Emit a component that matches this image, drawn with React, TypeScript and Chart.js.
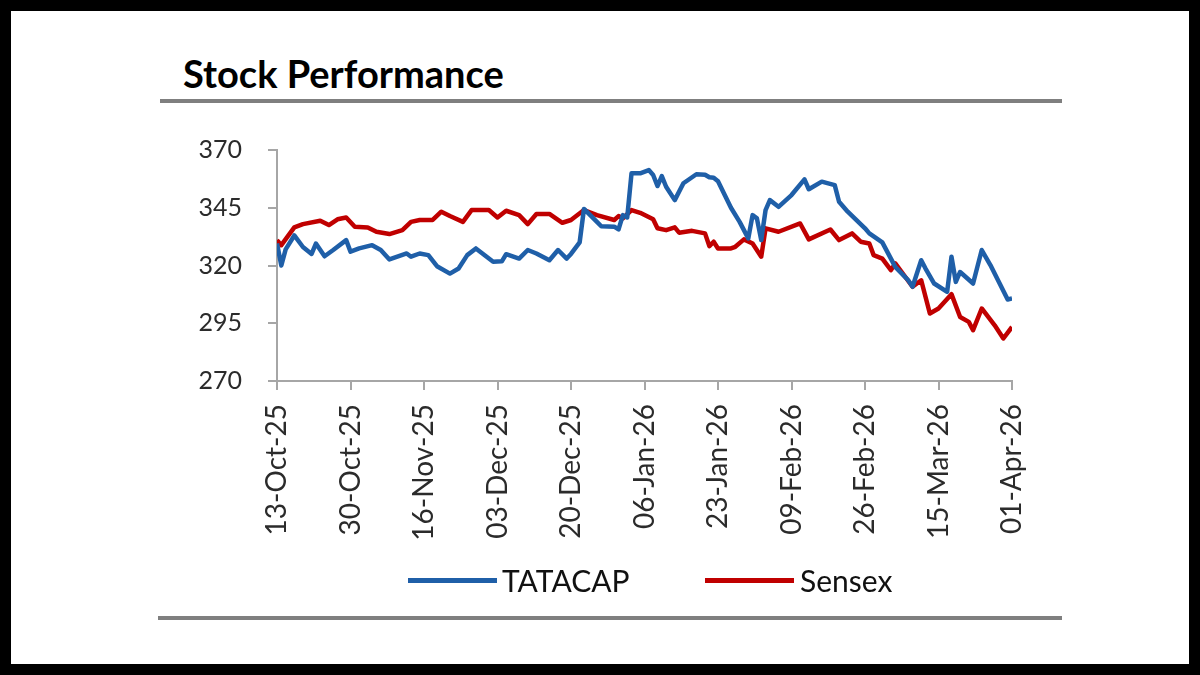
import React, { useEffect, useRef } from "react";
import { Chart, registerables } from "chart.js";

Chart.register(...registerables);

// x-axis tick labels (every 17 days starting 13-Oct-25)
const tickLabels = [
  "13-Oct-25", "30-Oct-25", "16-Nov-25", "03-Dec-25", "20-Dec-25", "06-Jan-26",
  "23-Jan-26", "09-Feb-26", "26-Feb-26", "15-Mar-26", "01-Apr-26",
];
const tickStepDays = 17;
const totalDays = 170;

// TATACAP: days since 13-Oct-25 and rebased values
const tataDays = [
  0, 1, 2, 4, 6, 8, 9, 11, 13, 16, 17, 19, 22, 24, 26, 30, 31, 33, 35, 37, 40, 42, 44, 46, 50,
  52, 53, 56, 58, 60, 63, 65, 67, 68, 70, 71, 74, 75, 78, 79, 80, 81, 82, 84, 86, 87, 88, 89, 90,
  92, 94, 97, 99, 100, 101, 102, 105, 107, 108, 109, 110, 111, 112, 113, 114, 116, 119, 122, 123,
  126, 129, 130, 132, 136, 137, 140, 143, 146, 147, 149, 150, 152, 155, 156, 157, 158, 161, 163,
  165, 169, 170,
];
const tataValues = [
  329.5, 320, 327, 333, 328, 325, 329.5, 324, 326.7, 331, 326, 327.4, 328.8, 326.7, 322.6, 325.2,
  323.8, 325.2, 324.5, 319.7, 316.5, 318.7, 324.5, 327.4, 321.6, 321.8, 324.9, 323, 326.7, 325.2,
  322.3, 326.7, 323, 325, 330, 344.5, 338.9, 337, 336.8, 335.6, 341.8, 340.8, 359.9, 359.9, 361.3,
  359.2, 354.4, 358.7, 354.1, 348.3, 355.6, 359.5, 359.3, 358.2, 358, 356.5, 345, 338.9, 335.3,
  331.7, 341.8, 340.4, 331, 344, 348.3, 345.4, 350.5, 357.3, 353, 356.3, 354.8, 347.6, 343.3,
  336.1, 333.9, 330, 319.4, 313.6, 310.8, 322.3, 318.7, 312.2, 308.6, 323.8, 312.9, 317.2, 312.2,
  326.7, 320.2, 305.3, 305.7,
];

// Sensex: days since 13-Oct-25 and rebased values
const sensexDays = [
  0, 1, 4, 6, 10, 12, 14, 16, 18, 21, 23, 26, 29, 31, 33, 36, 38, 40, 43, 45, 49, 51, 53, 56, 58,
  60, 63, 66, 68, 71, 74, 78, 79, 80, 82, 84, 87, 88, 90, 92, 93, 96, 99, 100, 101, 102, 105, 106,
  108, 110, 112, 113, 116, 121, 123, 128, 130, 133, 135, 137, 138, 140, 142, 143, 147, 149, 151,
  153, 156, 158, 160, 161, 163, 166, 168, 170,
];
const sensexValues = [
  331, 328.8, 336.5, 337.9, 339.4, 337.5, 340, 340.8, 336.8, 336.5, 334.6, 333.6, 335.3, 338.9,
  339.7, 339.7, 343.3, 341.4, 338.9, 344, 344, 340.8, 343.7, 341.8, 337.9, 342.3, 342.3, 338.5,
  339.7, 344, 341.8, 339.7, 341.4, 340.4, 344, 342.8, 340, 336.1, 335.3, 336.5, 334.2, 335, 333.9,
  328.4, 330.3, 327.4, 327.4, 328.1, 331.3, 329.5, 323.8, 336.1, 334.6, 338.2, 331.3, 335.6, 331,
  333.9, 330.3, 329.5, 324.5, 323, 318, 320.9, 310.8, 313.6, 299.2, 301.4, 307.6, 297.7, 295.6,
  292, 301.4, 294.1, 288.4, 293.4,
];

const seriesNames = ["TATACAP", "Sensex"];
const seriesColors = ["#1f5fa8", "#c00000"];

const yMin = 270;
const yMax = 370;
const yStep = 25;

const axisColor = "#a6a6a6";
const labelColor = "#2b2b2b";

export default function App() {
  const canvasRef = useRef<HTMLCanvasElement>(null);

  useEffect(() => {
    if (!canvasRef.current) return;
    const toPoints = (days: number[], vals: number[]) =>
      days.map((d, i) => ({ x: d, y: vals[i] }));
    const chart = new Chart(canvasRef.current, {
      type: "line",
      data: {
        datasets: [
          {
            label: seriesNames[0],
            data: toPoints(tataDays, tataValues),
            borderColor: seriesColors[0],
            backgroundColor: seriesColors[0],
            borderWidth: 4.5,
            pointRadius: 0,
            tension: 0,
            borderJoinStyle: "round",
          },
          {
            label: seriesNames[1],
            data: toPoints(sensexDays, sensexValues),
            borderColor: seriesColors[1],
            backgroundColor: seriesColors[1],
            borderWidth: 4.5,
            pointRadius: 0,
            tension: 0,
            borderJoinStyle: "round",
          },
        ],
      },
      options: {
        responsive: false,
        maintainAspectRatio: false,
        animation: false,
        devicePixelRatio: 1,
        layout: { padding: { left: 197, top: 150, right: 188, bottom: 129 } },
        plugins: {
          legend: { display: false },
          tooltip: { enabled: false },
        },
        scales: {
          x: {
            type: "linear",
            min: 0,
            max: totalDays,
            afterFit: (s: any) => {
              s.height = 165;
            },
            ticks: {
              stepSize: tickStepDays,
              autoSkip: false,
              maxRotation: 90,
              minRotation: 90,
              padding: 14,
              color: labelColor,
              font: { family: "Lato", size: 28 },
              callback: (v: any) => tickLabels[Math.round(Number(v) / tickStepDays)] ?? "",
            },
            grid: {
              drawOnChartArea: false,
              drawTicks: true,
              tickLength: 9,
              color: axisColor,
              lineWidth: 2,
            },
            border: { display: true, color: axisColor, width: 2 },
          },
          y: {
            min: yMin,
            max: yMax,
            afterFit: (s: any) => {
              s.width = 80;
            },
            ticks: {
              stepSize: yStep,
              padding: 26,
              color: labelColor,
              font: { family: "Lato", size: 25 },
            },
            grid: {
              drawOnChartArea: false,
              drawTicks: true,
              tickLength: 9,
              color: axisColor,
              lineWidth: 2,
            },
            border: { display: true, color: axisColor, width: 2 },
          },
        },
      },
    });
    return () => chart.destroy();
  }, []);

  const legendItems = [
    { name: seriesNames[0], color: seriesColors[0], lineLeft: 408, textLeft: 502 },
    { name: seriesNames[1], color: seriesColors[1], lineLeft: 705, textLeft: 800 },
  ];

  return (
    <div
      style={{
        position: "fixed",
        left: 0,
        top: 0,
        width: 1200,
        height: 675,
        background: "#000",
        overflow: "hidden",
      }}
    >
      <div
        style={{
          position: "absolute",
          left: 11,
          top: 11,
          right: 11,
          bottom: 11,
          background: "#fff",
        }}
      />
      <div
        style={{
          position: "absolute",
          left: 183,
          top: 54,
          fontFamily: "Lato",
          fontWeight: 700,
          fontSize: 38,
          lineHeight: 1,
          color: "#000",
          whiteSpace: "nowrap",
        }}
      >
        Stock Performance
      </div>
      <div
        style={{
          position: "absolute",
          left: 160,
          top: 99,
          width: 902,
          height: 4,
          background: "#7f7f7f",
        }}
      />
      <canvas
        ref={canvasRef}
        width={1200}
        height={675}
        style={{ position: "absolute", left: 0, top: 0, width: 1200, height: 675 }}
      />
      {legendItems.map((it) => (
        <React.Fragment key={it.name}>
          <div
            style={{
              position: "absolute",
              left: it.lineLeft,
              top: 578,
              width: 89,
              height: 5,
              background: it.color,
            }}
          />
          <div
            style={{
              position: "absolute",
              left: it.textLeft,
              top: 565,
              fontFamily: "Lato",
              fontSize: 30,
              lineHeight: 1,
              color: "#111",
              whiteSpace: "nowrap",
            }}
          >
            {it.name}
          </div>
        </React.Fragment>
      ))}
      <div
        style={{
          position: "absolute",
          left: 158,
          top: 616,
          width: 904,
          height: 4,
          background: "#7f7f7f",
        }}
      />
    </div>
  );
}
